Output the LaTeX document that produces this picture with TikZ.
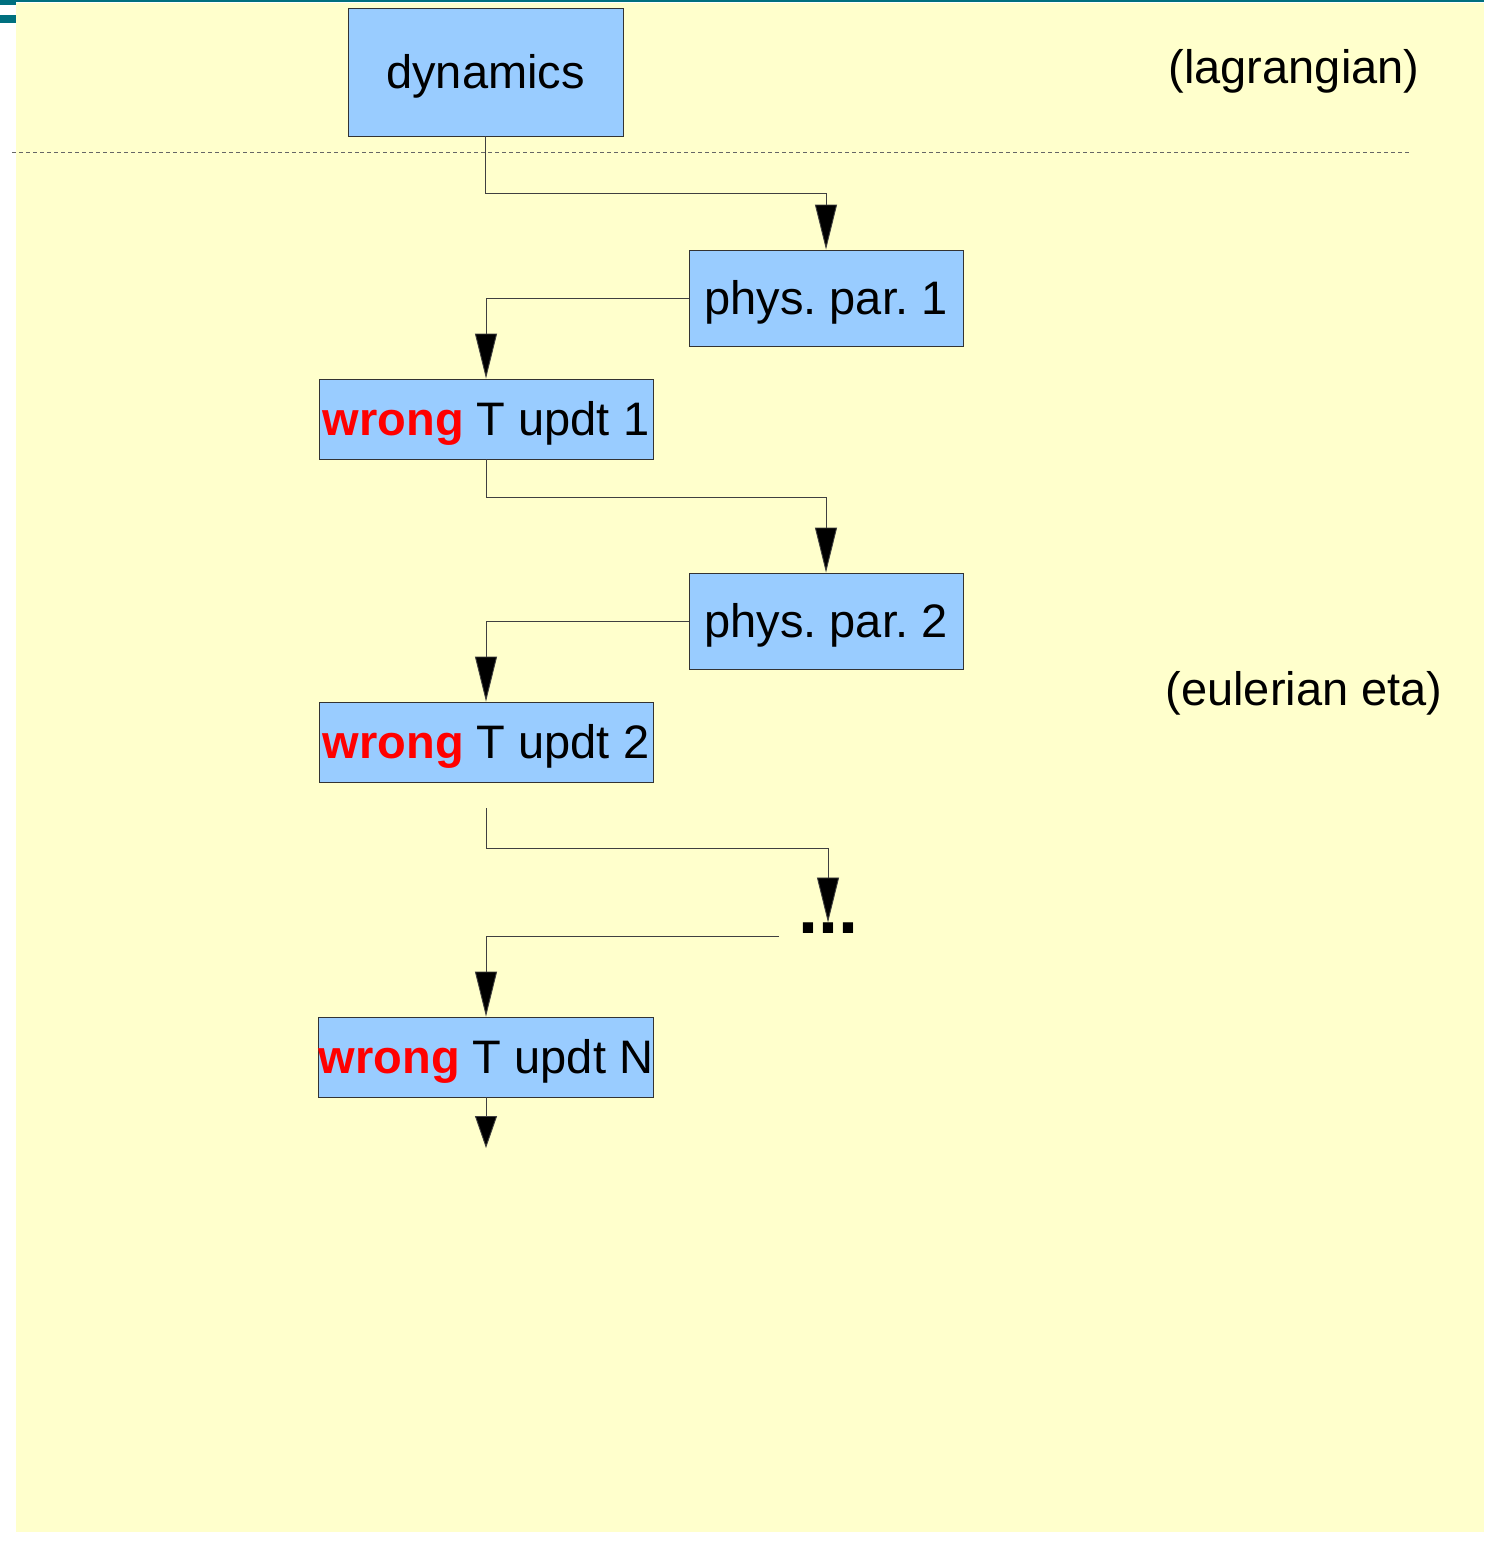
\documentclass[tikz,border=0pt]{standalone}
\usepackage{fontspec}
\setmainfont{Liberation Sans}
\usetikzlibrary{arrows.meta}
\definecolor{bg}{HTML}{FFFFCC}
\definecolor{boxfill}{HTML}{99CCFF}
\definecolor{tealbar}{HTML}{00707F}
\definecolor{wrongred}{HTML}{FF0000}
\frenchspacing
\begin{document}
\begin{tikzpicture}[x=1pt,y=-1pt,
  box/.style={draw=black!80, fill=boxfill, line width=0.9pt, inner sep=0pt,
    text height=42.5pt, text depth=10pt,
    font=\fontsize{47}{56}\selectfont\frenchspacing},
  label/.style={inner sep=0pt, text height=42.5pt, text depth=10pt,
    font=\fontsize{47}{56}\selectfont},
  conn/.style={draw=black!75, line width=0.9pt, -{Triangle[length=45pt,width=22pt,fill=black]}},
  connsmall/.style={draw=black!75, line width=0.9pt, -{Triangle[length=32pt,width=22pt,fill=black]}},
  sep/.style={draw=black!60, line width=0.8pt, dash pattern=on 4pt off 3pt}
]
\useasboundingbox (0,0) rectangle (1484,1542);
\fill[bg] (16,3) rectangle (1484,1532);
\fill[tealbar] (0,0) rectangle (1484,2);
\fill[tealbar] (0,0) rectangle (16,5);
\fill[tealbar] (0,15) rectangle (16,23);

\draw[sep] (12,152) -- (1410,152);

\node[box, minimum width=275pt, minimum height=128pt] (dyn) at (485.5,72) {dynamics};
\node[box, minimum width=274pt, minimum height=96pt] (p1) at (826,298) {phys. par. 1};
\node[box, minimum width=334pt, minimum height=80pt] (w1) at (486,419) {\textcolor{wrongred}{\bfseries wrong} T updt 1};
\node[box, minimum width=274pt, minimum height=96pt] (p2) at (826,621) {phys. par. 2};
\node[box, minimum width=334pt, minimum height=80pt] (w2) at (486,742) {\textcolor{wrongred}{\bfseries wrong} T updt 2};
\node[box, minimum width=334pt, minimum height=80pt] (wN) at (486,1057) {\textcolor{wrongred}{\bfseries wrong} T updt N};
\node[inner sep=0pt, anchor=north, font=\fontsize{72}{72}\selectfont\bfseries] (dots) at (828,922.5) {...};

\node[label] (lag) at (1294,67) {(lagrangian)};
\node[label] (eul) at (1304,689) {(eulerian eta)};

\coordinate (c5) at (486,808);
\coordinate (c6) at (779,936);
\coordinate (cend) at (483,1148);

\draw[conn] (dyn.south) -- ++(0,57) -| (p1.north);
\draw[conn] (p1.west) -| (w1.north);
\draw[conn] (w1.south) -- ++(0,38) -| (p2.north);
\draw[conn] (p2.west) -| (w2.north);
\draw[conn] (c5) -- ++(0,40) -| (dots.north);
\draw[conn] (c6) -| (wN.north);
\draw[connsmall] (wN.south) -- (wN.south |- cend);
\end{tikzpicture}
\end{document}
